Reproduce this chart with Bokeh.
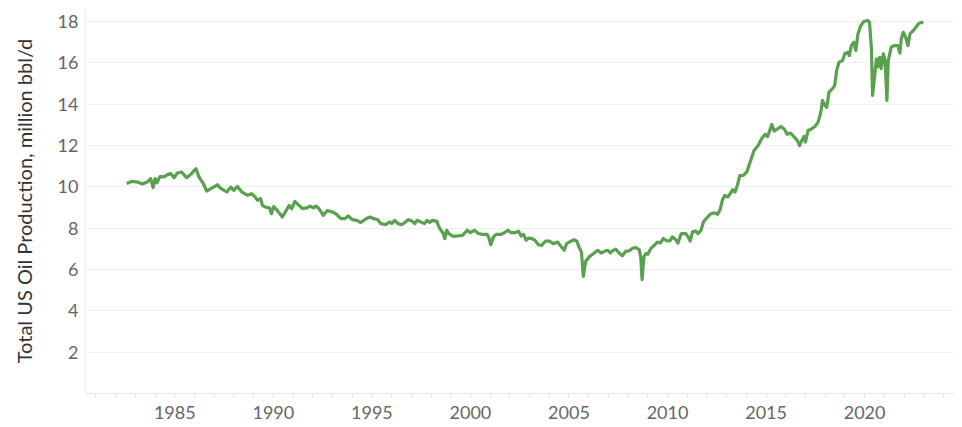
from bokeh.plotting import figure
from bokeh.models import ColumnDataSource, FixedTicker, Range1d
from bokeh.embed import file_html
from bokeh.resources import INLINE

# Decimal year of each reading and US oil production (million bbl/d)
years = [
    1982.56, 1982.85, 1983.10, 1983.36, 1983.60, 1983.78, 1983.90, 1984.00, 1984.10, 1984.25,
    1984.45, 1984.63, 1984.80, 1984.96, 1985.13, 1985.34, 1985.60, 1985.85, 1986.07, 1986.23,
    1986.45, 1986.62, 1986.83, 1987.17, 1987.30, 1987.64, 1987.84, 1988.00, 1988.18, 1988.40,
    1988.70, 1988.90, 1989.05, 1989.20, 1989.35, 1989.45, 1989.60, 1989.80, 1989.90, 1990.02,
    1990.20, 1990.46, 1990.63, 1990.80, 1990.93, 1991.09, 1991.26, 1991.48, 1991.70, 1991.87,
    1992.04, 1992.16, 1992.32, 1992.53, 1992.74, 1993.00, 1993.17, 1993.42, 1993.62, 1993.80,
    1994.02, 1994.24, 1994.44, 1994.70, 1994.91, 1995.10, 1995.30, 1995.45, 1995.70, 1995.90,
    1996.00, 1996.16, 1996.33, 1996.50, 1996.67, 1996.84, 1997.06, 1997.18, 1997.30, 1997.55,
    1997.67, 1997.80, 1997.93, 1998.07, 1998.30, 1998.40, 1998.50, 1998.63, 1998.70, 1998.80,
    1998.90, 1999.08, 1999.33, 1999.60, 1999.84, 2000.00, 2000.20, 2000.40, 2000.60, 2000.85,
    2000.95, 2001.03, 2001.17, 2001.30, 2001.55, 2001.72, 2001.90, 2002.07, 2002.27, 2002.44,
    2002.57, 2002.70, 2002.82, 2002.95, 2003.10, 2003.27, 2003.45, 2003.62, 2003.80, 2004.02,
    2004.20, 2004.42, 2004.59, 2004.76, 2004.88, 2005.10, 2005.26, 2005.40, 2005.52, 2005.63,
    2005.73, 2005.80, 2005.85, 2006.02, 2006.20, 2006.46, 2006.63, 2006.80, 2006.97, 2007.10,
    2007.20, 2007.37, 2007.54, 2007.71, 2007.88, 2008.05, 2008.22, 2008.39, 2008.56, 2008.64,
    2008.71, 2008.80, 2008.90, 2009.00, 2009.15, 2009.32, 2009.49, 2009.63, 2009.79, 2009.96,
    2010.13, 2010.24, 2010.41, 2010.53, 2010.70, 2010.93, 2011.04, 2011.15, 2011.27, 2011.43,
    2011.55, 2011.70, 2011.82, 2012.03, 2012.20, 2012.40, 2012.54, 2012.67, 2012.78, 2012.90,
    2013.07, 2013.18, 2013.30, 2013.43, 2013.54, 2013.67, 2013.85, 2014.02, 2014.22, 2014.39,
    2014.60, 2014.77, 2014.94, 2015.07, 2015.19, 2015.29, 2015.41, 2015.58, 2015.75, 2015.92,
    2016.07, 2016.24, 2016.41, 2016.58, 2016.70, 2016.83, 2016.92, 2017.00, 2017.13, 2017.30,
    2017.48, 2017.64, 2017.78, 2017.86, 2017.98, 2018.08, 2018.19, 2018.36, 2018.48, 2018.58,
    2018.70, 2018.87, 2019.00, 2019.15, 2019.22, 2019.33, 2019.45, 2019.55, 2019.66, 2019.80,
    2019.97, 2020.17, 2020.25, 2020.35, 2020.40, 2020.50, 2020.60, 2020.67, 2020.77, 2020.84,
    2020.95, 2021.04, 2021.13, 2021.20, 2021.35, 2021.52, 2021.68, 2021.79, 2021.86, 2021.96,
    2022.08, 2022.20, 2022.30, 2022.47, 2022.60, 2022.76, 2022.98,
]
production = [
    10.16, 10.27, 10.23, 10.14, 10.23, 10.40, 9.96, 10.40, 10.20, 10.50,
    10.48, 10.59, 10.64, 10.44, 10.67, 10.72, 10.44, 10.64, 10.88, 10.47,
    10.15, 9.80, 9.91, 10.10, 9.95, 9.75, 9.99, 9.83, 10.02, 9.75,
    9.59, 9.67, 9.54, 9.35, 9.43, 9.10, 9.02, 8.99, 8.70, 9.05,
    8.86, 8.54, 8.82, 9.10, 8.94, 9.30, 9.14, 8.95, 8.98, 9.07,
    8.98, 9.07, 8.94, 8.62, 8.86, 8.78, 8.70, 8.46, 8.46, 8.59,
    8.41, 8.38, 8.27, 8.46, 8.54, 8.46, 8.41, 8.22, 8.17, 8.30,
    8.22, 8.38, 8.22, 8.17, 8.27, 8.41, 8.33, 8.22, 8.38, 8.27,
    8.22, 8.38, 8.27, 8.38, 8.33, 8.06, 7.90, 7.74, 7.50, 7.90,
    7.74, 7.62, 7.62, 7.65, 7.90, 7.78, 7.90, 7.74, 7.70, 7.70,
    7.50, 7.20, 7.58, 7.70, 7.70, 7.78, 7.90, 7.78, 7.78, 7.86,
    7.62, 7.70, 7.42, 7.52, 7.50, 7.42, 7.20, 7.17, 7.37, 7.37,
    7.25, 7.33, 7.13, 6.93, 7.25, 7.37, 7.44, 7.37, 7.06, 6.85,
    5.67, 6.12, 6.40, 6.61, 6.74, 6.93, 6.80, 6.88, 6.93, 6.80,
    6.90, 6.99, 6.80, 6.67, 6.88, 6.90, 7.03, 7.06, 6.96, 6.61,
    5.51, 6.61, 6.77, 6.74, 7.01, 7.17, 7.33, 7.28, 7.50, 7.39,
    7.39, 7.58, 7.45, 7.28, 7.74, 7.74, 7.58, 7.38, 7.82, 7.86,
    7.74, 7.90, 8.30, 8.54, 8.70, 8.74, 8.67, 8.90, 9.35, 9.59,
    9.51, 9.67, 9.86, 9.75, 10.07, 10.55, 10.55, 10.72, 11.28, 11.76,
    12.00, 12.33, 12.54, 12.43, 12.73, 13.02, 12.70, 12.80, 12.92, 12.80,
    12.54, 12.60, 12.43, 12.25, 12.00, 12.27, 12.44, 12.17, 12.73, 12.80,
    12.92, 13.13, 13.62, 14.18, 13.94, 13.85, 14.58, 14.74, 14.90, 15.63,
    16.03, 16.11, 16.44, 16.52, 16.35, 16.84, 17.00, 16.60, 17.40, 17.80,
    18.01, 18.05, 17.95, 16.60, 14.42, 15.30, 16.19, 15.80, 16.27, 15.72,
    16.44, 16.11, 14.18, 16.11, 16.76, 16.84, 16.84, 16.47, 17.16, 17.48,
    17.24, 16.84, 17.40, 17.56, 17.72, 17.92, 17.98,
]
x_ticks = [1985, 1990, 1995, 2000, 2005, 2010, 2015, 2020]
x_minor_ticks = list(range(1981, 2025))
y_ticks = [2, 4, 6, 8, 10, 12, 14, 16, 18]
y_label = "Total US Oil Production, million bbl/d"

source = ColumnDataSource(data=dict(year=years, production=production))

p = figure(
    width=954, height=427,
    output_backend="svg", toolbar_location=None,
    x_range=Range1d(1980.47, 2024.56), y_range=Range1d(0, 18.63),
    min_border_left=85, min_border_right=0, min_border_top=8, min_border_bottom=34,
    background_fill_color="white", border_fill_color="white",
)
p.outline_line_color = None

p.line("year", "production", source=source, line_color="#59a14f",
       line_width=3.2, line_join="round")

FONT = "Lato"

xa = p.xaxis[0]
xa.ticker = FixedTicker(ticks=x_ticks, minor_ticks=x_minor_ticks)
xa.axis_line_color = "#e6e6e6"
xa.major_tick_line_color = "#e6e6e6"
xa.minor_tick_line_color = "#e6e6e6"
xa.major_tick_out = 5
xa.major_tick_in = 0
xa.minor_tick_out = 5
xa.minor_tick_in = 0
xa.major_label_standoff = 7
xa.major_label_text_font = FONT
xa.major_label_text_font_size = "18px"
xa.major_label_text_color = "#666666"

ya = p.yaxis[0]
ya.ticker = FixedTicker(ticks=y_ticks)
ya.axis_line_color = "#eeeeee"
ya.major_tick_line_color = None
ya.minor_tick_line_color = None
ya.major_tick_out = 0
ya.major_tick_in = 0
ya.major_label_standoff = 7
ya.major_label_text_font = FONT
ya.major_label_text_font_size = "18px"
ya.major_label_text_color = "#666666"
ya.axis_label = y_label
ya.axis_label_text_font = FONT
ya.axis_label_text_font_size = "20px"
ya.axis_label_text_font_style = "normal"
ya.axis_label_text_color = "#333333"
ya.axis_label_standoff = 19

p.xgrid.visible = False
p.ygrid.grid_line_color = "#f0f0f0"
p.ygrid.grid_line_width = 1

open("out.html", "w").write(file_html(p, INLINE))
